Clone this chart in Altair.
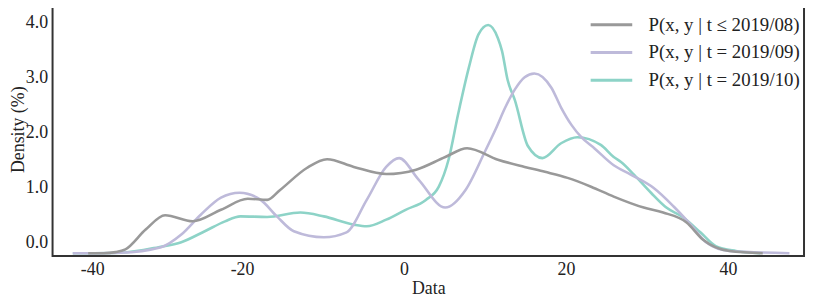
import altair as alt
import pandas as pd

SERIES = ["P(x, y | t ≤ 2019/08)", "P(x, y | t = 2019/09)", "P(x, y | t = 2019/10)"]
COLORS = ["#999999", "#bebada", "#8dd3c7"]

GREY_X = [-39.0, -37.1, -35.6, -34.4, -31.9, -29.5, -26.1, -22.6, -19.3, -16.9, -15.3, -12.0, -9.5, -6.2,
          -2.2, 1.5, 5.1, 7.8, 11.6, 14.9, 17.4, 20.2, 23.1, 25.9, 29.6, 32.0, 34.9, 36.9, 40.2, 44.3]
GREY_Y = [-0.20, -0.20, -0.18, -0.13, 0.23, 0.49, 0.38, 0.59, 0.79, 0.77, 0.95, 1.35, 1.51, 1.37,
          1.24, 1.32, 1.55, 1.71, 1.50, 1.37, 1.28, 1.17, 1.01, 0.83, 0.63, 0.54, 0.36, 0.05, -0.16, -0.20]

PURPLE_X = [-40.9, -35.0, -30.0, -27.5, -25.1, -22.6, -20.3, -17.7, -15.7, -13.6, -9.9, -7.1, -4.6, -2.2,
            -0.6, 1.8, 5.1, 7.6, 10.0, 11.3, 12.5, 13.7, 14.9, 16.1, 18.2, 19.4, 20.7, 21.9, 23.5, 25.9,
            28.0, 30.8, 33.3, 35.4, 37.3, 40.2, 47.6]
PURPLE_Y = [-0.20, -0.19, -0.09, 0.14, 0.50, 0.81, 0.90, 0.77, 0.47, 0.20, 0.09, 0.18, 0.77, 1.37,
            1.53, 1.14, 0.63, 0.95, 1.65, 2.05, 2.45, 2.78, 3.00, 3.07, 2.81, 2.45, 2.13, 1.91, 1.71, 1.40,
            1.23, 0.99, 0.65, 0.32, 0.00, -0.16, -0.20]

TEAL_X = [-40.9, -35.0, -30.3, -27.5, -24.6, -22.1, -20.2, -16.9, -12.8, -9.9, -6.2, -4.6, -2.2, 0.2,
          2.7, 4.3, 5.5, 6.7, 8.0, 9.2, 10.4, 11.6, 12.1, 12.8, 13.7, 15.3, 17.1, 19.4, 21.4, 24.3, 25.9,
          26.8, 28.4, 30.5, 32.4, 34.5, 36.6, 38.5, 41.0, 44.0]
TEAL_Y = [-0.20, -0.19, -0.09, 0.00, 0.20, 0.38, 0.47, 0.46, 0.54, 0.47, 0.32, 0.29, 0.41, 0.59,
          0.77, 1.01, 1.50, 2.34, 3.17, 3.78, 3.95, 3.71, 3.48, 2.95, 2.58, 1.75, 1.53, 1.80, 1.91, 1.77, 1.55,
          1.46, 1.23, 0.90, 0.63, 0.45, 0.18, -0.07, -0.16, -0.20]

X_TICKS = [-38.5, -20, 0, 20, 40]
Y_TICKS = [0, 1, 2, 3, 4]

FONT = "Liberation Serif"

rows = []
for name, xs, ys in zip(SERIES, [GREY_X, PURPLE_X, TEAL_X], [GREY_Y, PURPLE_Y, TEAL_Y]):
    for i, (x, y) in enumerate(zip(xs, ys)):
        rows.append({"series": name, "x": x, "y": y, "i": i})
df = pd.DataFrame(rows)

base = alt.Chart(df).mark_line(strokeWidth=2.6, interpolate="monotone").encode(
    x=alt.X("x:Q", scale=alt.Scale(domain=[-43.4, 49.4], nice=False, zero=False),
            axis=alt.Axis(title="Data", values=X_TICKS,
                          labelExpr="'' + round(datum.value / 10) * 10",
                          labelPadding=5, titlePadding=1)),
    y=alt.Y("y:Q", scale=alt.Scale(domain=[-0.25, 4.36], nice=False, zero=False),
            axis=alt.Axis(title="Density (%)", values=Y_TICKS, format=".1f",
                          labelPadding=5, titlePadding=-2)),
    color=alt.Color("series:N", scale=alt.Scale(domain=SERIES, range=COLORS),
                    legend=alt.Legend(title=None, orient="none", legendX=549, legendY=7,
                                      symbolType="M-1.5,0H1.5", symbolSize=784, symbolStrokeWidth=3,
                                      symbolFillColor="transparent",
                                      labelFont=FONT, labelFontSize=19, labelOffset=22,
                                      rowPadding=2, padding=0, labelLimit=300)),
    order="i:Q",
)

chart = alt.layer(
    base.transform_filter(alt.datum.series == SERIES[2]),
    base.transform_filter(alt.datum.series == SERIES[1]),
    base.transform_filter(alt.datum.series == SERIES[0]),
).properties(
    width=759, height=256,
    autosize=alt.AutoSizeParams(type="none"),
    padding={"left": 45, "top": -7, "right": 2, "bottom": 40},
).configure(
    font=FONT,
).configure_view(
    stroke="#333333", strokeWidth=2,
).configure_axis(
    grid=False, ticks=False, domain=False,
    labelFont=FONT, titleFont=FONT,
    labelFontSize=18, titleFontSize=18, labelColor="#222222", titleColor="#222222",
    titleFontWeight="normal",
).configure_legend(
    labelColor="#222222",
)

chart.save("out.html", embed_options={"renderer": "svg", "actions": False})
